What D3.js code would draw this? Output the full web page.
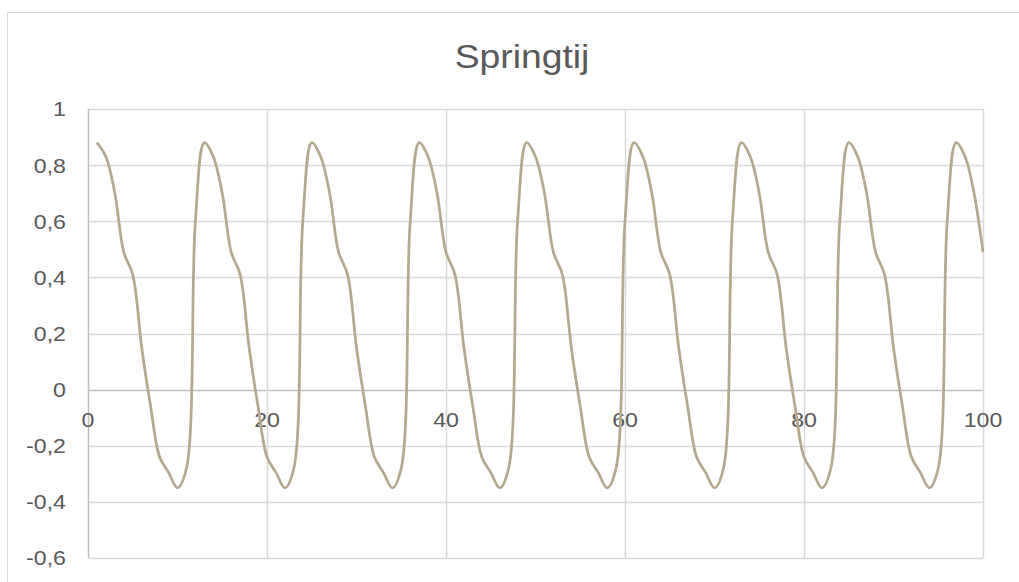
<!DOCTYPE html>
<html>
<head>
<meta charset="utf-8">
<script src="https://cdn.jsdelivr.net/npm/d3@7"></script>
<style>
  body { margin: 0; background: #fff; }
  text { font-family: "Liberation Sans", Arial, sans-serif; fill: #595959; }
</style>
</head>
<body>
<div id="chart"></div>
<script>
// Springtij - hourly samples
var xs = d3.range(1, 101);
var ys = [
    0.88, 0.83, 0.70, 0.49, 0.41, 0.15, -0.06, -0.24, -0.295, -0.35, -0.28, 0.60,
    0.88, 0.83, 0.70, 0.49, 0.41, 0.15, -0.06, -0.24, -0.295, -0.35, -0.28, 0.60,
    0.88, 0.83, 0.70, 0.49, 0.41, 0.15, -0.06, -0.24, -0.295, -0.35, -0.28, 0.60,
    0.88, 0.83, 0.70, 0.49, 0.41, 0.15, -0.06, -0.24, -0.295, -0.35, -0.28, 0.60,
    0.88, 0.83, 0.70, 0.49, 0.41, 0.15, -0.06, -0.24, -0.295, -0.35, -0.28, 0.60,
    0.88, 0.83, 0.70, 0.49, 0.41, 0.15, -0.06, -0.24, -0.295, -0.35, -0.28, 0.60,
    0.88, 0.83, 0.70, 0.49, 0.41, 0.15, -0.06, -0.24, -0.295, -0.35, -0.28, 0.60,
    0.88, 0.83, 0.70, 0.49, 0.41, 0.15, -0.06, -0.24, -0.295, -0.35, -0.28, 0.60,
    0.88, 0.83, 0.70, 0.49
];
var xTicks = [0, 20, 40, 60, 80, 100];
var yTicks = [-0.6, -0.4, -0.2, 0, 0.2, 0.4, 0.6, 0.8, 1];
var title = "Springtij";

var width = 1019;
var height = 582;
var margin = {
    top: 109,
    right: 36,
    bottom: 24,
    left: 88
};
// the picture's text is a little wider than the font's own shapes
var stretch = 1.13;

var nl = d3.formatLocale({decimal: ",", thousands: ".", grouping: [3], currency: ["€", ""], minus: "-"});
var fmt = nl.format("~g");

var svg = d3.select("#chart").append("svg")
    .attr("width", width)
    .attr("height", height);

// chart frame (right and bottom edges fall outside the picture)
svg.append("rect")
    .attr("x", 7.5)
    .attr("y", 12.5)
    .attr("width", 1030)
    .attr("height", 600)
    .attr("fill", "none")
    .attr("stroke", "#d9d9d9");

var x = d3.scaleLinear()
    .domain([0, 100])
    .range([margin.left, width - margin.right]);
var y = d3.scaleLinear()
    .domain([-0.6, 1])
    .range([height - margin.bottom, margin.top]);

// grid
svg.append("g").selectAll("line")
    .data(yTicks)
    .enter().append("line")
    .attr("x1", x(0)).attr("x2", x(100))
    .attr("y1", d => Math.round(y(d)) + 0.5)
    .attr("y2", d => Math.round(y(d)) + 0.5)
    .attr("stroke", d => d === 0 ? "#bfbfbf" : "#d9d9d9")
    .attr("stroke-width", 1.5);

svg.append("g").selectAll("line")
    .data(xTicks)
    .enter().append("line")
    .attr("y1", y(-0.6)).attr("y2", y(1))
    .attr("x1", d => Math.round(x(d)) + 0.5)
    .attr("x2", d => Math.round(x(d)) + 0.5)
    .attr("stroke", d => d === 0 ? "#bfbfbf" : "#d9d9d9")
    .attr("stroke-width", 1.5);

// axis labels
svg.append("g").selectAll("text")
    .data(yTicks)
    .enter().append("text")
    .attr("transform", d => "translate(66," + y(d) + ") scale(" + stretch + ",1)")
    .attr("dy", "0.36em")
    .attr("text-anchor", "end")
    .attr("font-size", 20.5)
    .text(d => fmt(d));

svg.append("g").selectAll("text")
    .data(xTicks)
    .enter().append("text")
    .attr("transform", d => "translate(" + x(d) + "," + (y(0) + 30) + ") scale(" + stretch + ",1)")
    .attr("dy", "0.36em")
    .attr("text-anchor", "middle")
    .attr("font-size", 20.5)
    .text(d => fmt(d));

svg.append("text")
    .attr("transform", "translate(522,68) scale(" + stretch + ",1)")
    .attr("text-anchor", "middle")
    .attr("font-size", 33)
    .text(title);

// the series, smoothed like Excel's scatter lines
var line = d3.line()
    .x((d, i) => x(xs[i]))
    .y(d => y(d))
    .curve(d3.curveCatmullRom.alpha(0.5));

svg.append("path")
    .datum(ys)
    .attr("fill", "none")
    .attr("stroke", "#b4a98e")
    .attr("stroke-width", 2.75)
    .attr("stroke-linejoin", "round")
    .attr("d", line);
</script>
</body>
</html>
